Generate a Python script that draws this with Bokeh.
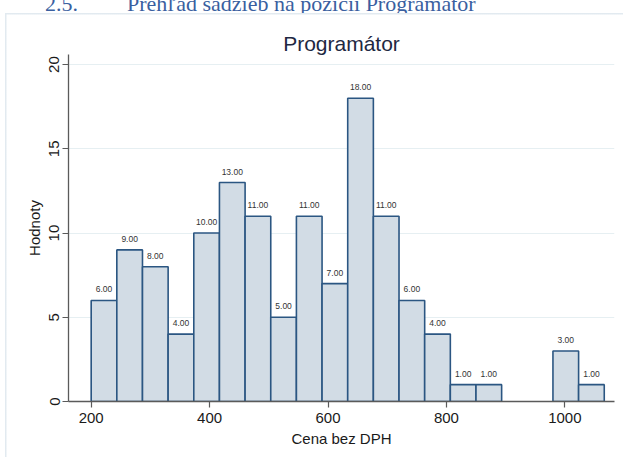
from bokeh.plotting import figure
from bokeh.layouts import column
from bokeh.models import (Range1d, Div, LabelSet, ColumnDataSource, FixedTicker)
from bokeh.core.properties import value
from bokeh.embed import file_html
from bokeh.resources import INLINE

# ---- data ----
counts = [6, 9, 8, 4, 10, 13, 11, 5, 11, 7, 18, 11, 6, 4, 1, 1, 0, 0, 3, 1]
bin_start = 200.0
bin_width = 43.33
x_ticks = [200, 400, 600, 800, 1000]
y_ticks = [0, 5, 10, 15, 20]
title_text = "Programátor"
x_label = "Cena bez DPH"
y_label = "Hodnoty"
heading_num = "2.5."
heading_text = "Prehľad sadzieb na pozícii Programátor"

# ---- geometry (page px) ----
W, H = 623, 457
HEAD_H = 13                                 # visible strip of the document heading
FL, FR, FT, FB = 68, 614, 54, 401           # plot frame edges on the page
X0, X1 = 161.7, 1083.9
Y0, Y1 = 0.0, 20.6

lefts, rights, tops, labels = [], [], [], []
for i, c in enumerate(counts):
    if c > 0:
        lefts.append(bin_start + i * bin_width)
        rights.append(bin_start + (i + 1) * bin_width)
        tops.append(c)
        labels.append(f"{c:.2f}")
src = ColumnDataSource(dict(left=lefts, right=rights, top=tops,
                            xc=[(a + b) / 2 for a, b in zip(lefts, rights)],
                            lab=labels))

# document heading, cut by the top of the page
hstyle = ("position:absolute; top:-9px; font-family:'Liberation Serif'; font-size:22px;"
          " line-height:26px; color:#3A5FA0; white-space:nowrap;")
head = Div(width=W, height=HEAD_H,
           text=(f'<span style="{hstyle} left:45px;">{heading_num}</span>'
                 f'<span style="{hstyle} left:127px;">{heading_text}</span>'),
           styles={"position": "relative", "overflow": "hidden", "margin": "0",
                   "padding": "0"})

LINE = "#E2EAF0"
bg = (f"linear-gradient({LINE},{LINE}) 5px 0px / 1.5px 100% no-repeat, "
      f"linear-gradient({LINE},{LINE}) 5px 0px / 100% 1.5px no-repeat, white")

p = figure(width=W, height=H - HEAD_H, output_backend="svg", toolbar_location=None,
           x_range=Range1d(X0, X1), y_range=Range1d(Y0, Y1),
           min_border_left=FL, min_border_right=W - FR,
           min_border_top=FT - HEAD_H, min_border_bottom=H - FB,
           styles={"background": bg})
p.outline_line_color = None
p.background_fill_color = "white"
p.border_fill_color = None

# title
p.title.text = title_text
p.title.align = "center"
p.title.text_font = "Liberation Sans"
p.title.text_font_size = "21px"
p.title.text_font_style = "normal"
p.title.text_color = "#1E2842"
p.title.standoff = 0

# grid
p.xgrid.grid_line_color = None
p.ygrid.ticker = FixedTicker(ticks=y_ticks[1:])
p.ygrid.grid_line_color = "#E6EFF2"
p.ygrid.grid_line_width = 1

FONT = "Liberation Sans"
for ax in (p.xaxis[0], p.yaxis[0]):
    ax.axis_line_color = "#5A5A5A"
    ax.axis_line_width = 1.3
    ax.major_tick_line_color = "#5A5A5A"
    ax.major_tick_line_width = 1.2
    ax.major_tick_out = 6
    ax.major_tick_in = 0
    ax.minor_tick_line_color = None
    ax.major_label_text_font = FONT
    ax.major_label_text_font_size = "15px"
    ax.major_label_text_color = "#1a1a1a"
    ax.axis_label_text_font = FONT
    ax.axis_label_text_font_size = "15px"
    ax.axis_label_text_font_style = "normal"
    ax.axis_label_text_color = "#1a1a1a"

p.xaxis.ticker = FixedTicker(ticks=x_ticks)
p.xaxis.axis_label = x_label
p.xaxis.major_label_standoff = 5
p.xaxis.axis_label_standoff = 4

p.yaxis.ticker = FixedTicker(ticks=y_ticks)
p.yaxis.axis_label = y_label
p.yaxis.major_label_orientation = "vertical"
p.yaxis.major_label_standoff = 3
p.yaxis.axis_label_standoff = 4

# bars
p.quad(left="left", right="right", top="top", bottom=0, source=src,
       fill_color="#D2DCE5", line_color="#2B5682", line_width=1.6)

p.add_layout(LabelSet(x="xc", y="top", text="lab", source=src, y_offset=8,
                      text_align="center", text_baseline="alphabetic",
                      text_font=value(FONT), text_font_size=value("8.5px"),
                      text_color=value("#333333")))

layout = column(head, p, spacing=0)
open("out.html", "w").write(file_html(layout, INLINE))
